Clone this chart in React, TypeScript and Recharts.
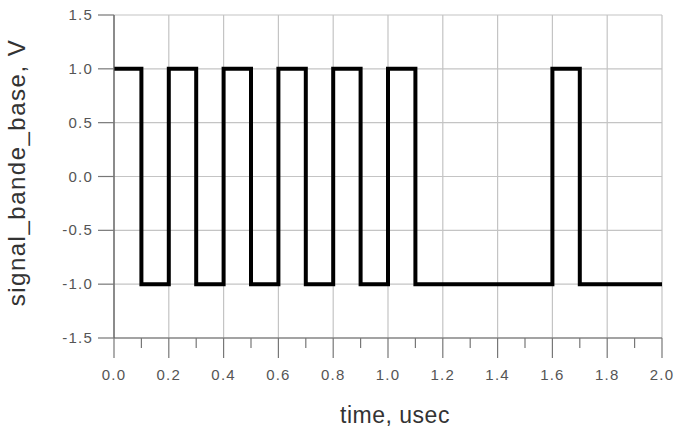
import { LineChart, Line, XAxis, YAxis, CartesianGrid } from "recharts";

const times = [0, 0.1, 0.2, 0.3, 0.4, 0.5, 0.6, 0.7, 0.8, 0.9, 1.0, 1.1, 1.6, 1.7, 2.0];
const levels = [1, -1, 1, -1, 1, -1, 1, -1, 1, -1, 1, -1, 1, -1, -1];

const xTicks = [0, 0.1, 0.2, 0.3, 0.4, 0.5, 0.6, 0.7, 0.8, 0.9, 1.0, 1.1, 1.2, 1.3, 1.4, 1.5, 1.6, 1.7, 1.8, 1.9, 2.0];
const xGrid = [0, 0.2, 0.4, 0.6, 0.8, 1.0, 1.2, 1.4, 1.6, 1.8, 2.0];
const yTicks = [-1.5, -1.0, -0.5, 0, 0.5, 1.0, 1.5];

const data = times.map((t, i) => ({ t, v: levels[i] }));

const font = "'Liberation Sans', Arial, sans-serif";

function XTick(props: any) {
  const { x, y, payload } = props;
  const major = Math.round(payload.value * 10) % 2 === 0;
  return (
    <g>
      <line x1={x} x2={x} y1={y} y2={y + (major ? 20 : 10)} stroke="#777" strokeWidth={1.2} />
      {major && (
        <text x={x} y={y + 42} textAnchor="middle" fontSize={15} letterSpacing={1.2} fill="#555" fontFamily={font}>
          {payload.value.toFixed(1)}
        </text>
      )}
    </g>
  );
}

function YTick(props: any) {
  const { x, y, payload } = props;
  return (
    <g>
      <line x1={x - 16} x2={x} y1={y} y2={y} stroke="#777" strokeWidth={1.2} />
      <text x={x - 21} y={y + 5} textAnchor="end" fontSize={15} letterSpacing={1.2} fill="#555" fontFamily={font}>
        {payload.value.toFixed(1)}
      </text>
    </g>
  );
}

export default function App() {
  return (
    <div style={{ position: "absolute", left: 0, top: 0, background: "#fff" }}>
      <LineChart width={674} height={433} data={data} margin={{ top: 15, right: 12, bottom: 0, left: 0 }}>
        <CartesianGrid
          stroke="#c4c4c4"
          strokeWidth={1.2}
          verticalValues={xGrid}
          horizontalValues={yTicks}
        />
        <XAxis
          dataKey="t"
          type="number"
          domain={[0, 2]}
          ticks={xTicks}
          interval={0}
          height={95}
          tickSize={0}
          tickMargin={0}
          tick={<XTick />}
          axisLine={{ stroke: "#666", strokeWidth: 1.2 }}
          label={{ value: "time, usec", position: "insideBottom", offset: 10, dx: 7, fontSize: 23, letterSpacing: 0.5, fill: "#333", fontFamily: font }}
        />
        <YAxis
          type="number"
          domain={[-1.5, 1.5]}
          ticks={yTicks}
          interval={0}
          width={114}
          tickSize={0}
          tickMargin={0}
          tick={<YTick />}
          axisLine={{ stroke: "#555", strokeWidth: 1.2 }}
          label={{ value: "signal_bande_base, V", angle: -90, position: "insideLeft", offset: 16, dy: -4, fontSize: 24, letterSpacing: 1.5, fill: "#333", fontFamily: font, style: { textAnchor: "middle" } }}
        />
        <Line
          type="stepAfter"
          dataKey="v"
          stroke="#000"
          strokeWidth={4}
          dot={false}
          isAnimationActive={false}
        />
      </LineChart>
    </div>
  );
}
